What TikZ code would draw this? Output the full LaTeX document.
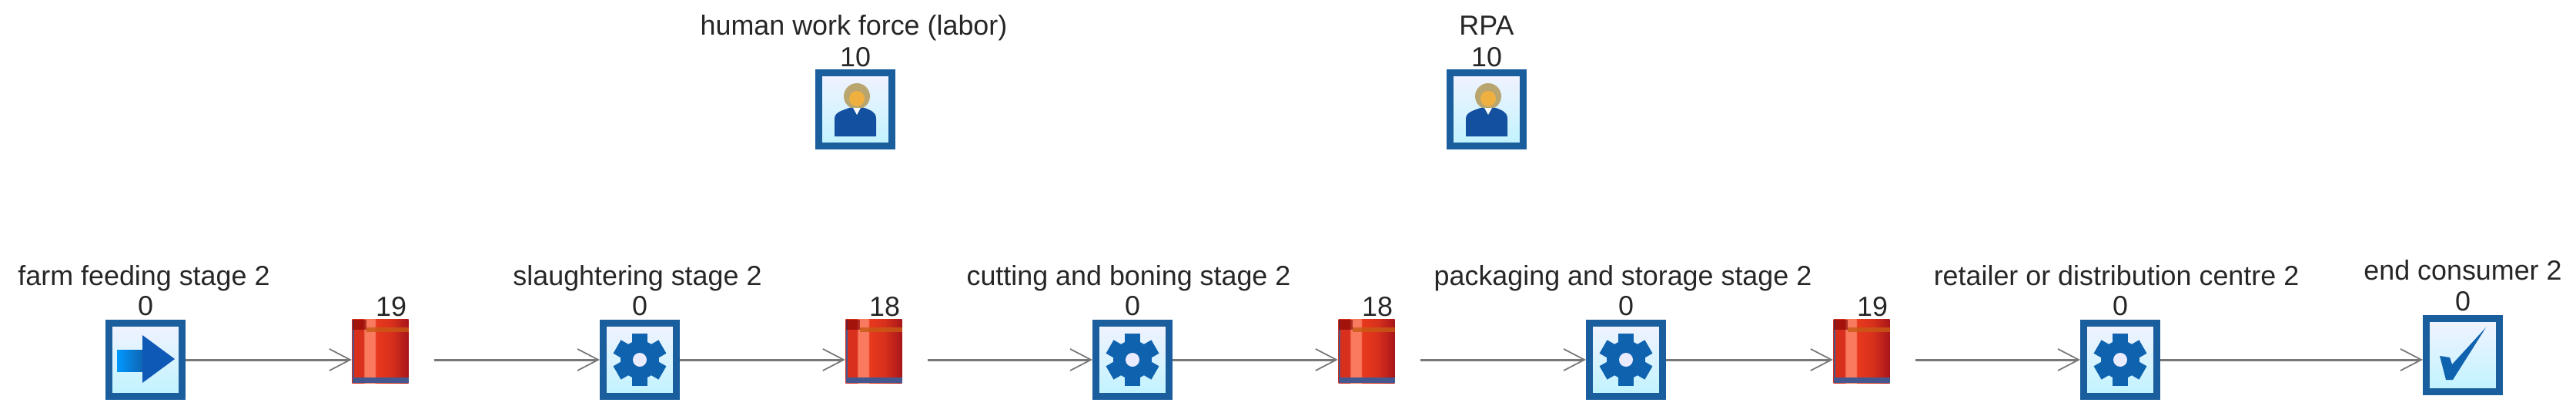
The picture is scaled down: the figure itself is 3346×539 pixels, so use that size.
\documentclass[tikz,border=0pt]{standalone}
\usepackage{fontspec}
\setmainfont{Liberation Sans}
\usepackage{tikz}
\usetikzlibrary{arrows.meta}

\definecolor{boxblue}{HTML}{1A5E9E}
\definecolor{iconblue}{HTML}{0F62AE}
\definecolor{flowgray}{HTML}{777777}
\definecolor{bufferred}{HTML}{D8301C}
\definecolor{bufferlight}{HTML}{F97A5E}
\definecolor{buffermid}{HTML}{E8391E}
\definecolor{bufferdark}{HTML}{A8161A}
\definecolor{bufferfoot}{HTML}{44588F}
\definecolor{bufferband}{HTML}{C85A14}
\definecolor{personblue}{HTML}{1450A0}
\definecolor{personhair}{HTML}{B9A66F}
\definecolor{personface}{HTML}{F0B040}
\pgfdeclarehorizontalshading{buffershade}{100bp}{
    color(0bp)=(bufferred); color(35bp)=(bufferred);
    color(36bp)=(bufferlight); color(45bp)=(bufferlight); color(46bp)=(buffermid);
    color(60bp)=(bufferred); color(75bp)=(bufferdark); color(100bp)=(bufferdark)}

\tikzset{
    stationbox/.style={draw=boxblue, line width=0.09cm, rectangle,
        top color=blue!5!white, bottom color=blue!18!cyan!25!white,
        minimum width=0.95cm, minimum height=0.95cm, inner sep=0pt},
    bufferbox/.style={rectangle, shading=buffershade, minimum width=0.73cm,
        minimum height=0.82cm, inner sep=0pt},
    caption/.style={font=\fontsize{10.2pt}{12pt}\selectfont, text=black!85, inner sep=0pt, anchor=base},
    count/.style={caption},
    flow/.style={draw=flowgray, line width=0.85pt,
        -{Straight Barb[length=0.27cm, width=0.28cm, line width=0.5pt]}},
    gearicon/.pic={
        \fill[iconblue] (0,0) circle (25);
        \fill[iconblue] (-10,-34) rectangle (10,34);
        \fill[iconblue, rotate=60] (-10,-34) rectangle (10,34);
        \fill[iconblue, rotate=120] (-10,-34) rectangle (10,34);
        \fill[blue!8!white] (0,0) circle (9);
    },
    arrowicon/.pic={
        \fill[left color=cyan!60!blue, right color=iconblue] (-37,-13) rectangle (-2,15);
        \fill[iconblue!90!blue] (-4,-32) -- (38,-1) -- (-4,30) -- cycle;
    },
    checkicon/.pic={
        \fill[iconblue] (-30,1) -- (-17,3) -- (-14,12) -- (30,-36) -- (-13,32) -- (-22,32) -- cycle;
    },
    personicon/.pic={
        \fill[personhair] (2,-17) circle (17);
        \fill[personface] (2,-14) circle (10);
        \fill[personblue] (-27,35) -- (-27,12) .. controls (-27,3) and (-15,1) .. (-8,-2)
            -- (12,-2) .. controls (19,1) and (27,3) .. (27,12) -- (27,35) -- cycle;
        \fill[white] (-3,-2) -- (7,-2) -- (2,7) -- cycle;
    },
    bufferdetail/.pic={
        \fill[bufferfoot] (-36.5,34) rectangle (36.5,41);
        \fill[bufferfoot] (-36.5,-41) rectangle (-34,34);
        \fill[bufferband, opacity=0.8] (-18,-31) rectangle (36.5,-25);
        \fill[red!50!black, opacity=0.6] (-36.5,-41) rectangle (-18,-28);
    },
}

\begin{document}
\begin{tikzpicture}[x=0.01cm, y=-0.01cm]
            \useasboundingbox (0,0) rectangle (3346,539);

            % resources
            \node[caption] (labor) at (1109,45) {human work force (labor)};
            \node[count] (laborcount) at (1111,86) {10};
            \node[stationbox] (laborbox) at (1111,142) {};
            \pic at (laborbox) {personicon};

            \node[caption] (rpa) at (1931,45) {RPA};
            \node[count] (rpacount) at (1931,86) {10};
            \node[stationbox] (rpabox) at (1931,142) {};
            \pic at (rpabox) {personicon};

            % stations
            \node[caption] (farm) at (187,370) {farm feeding stage 2};
            \node[count] (farmcount) at (189,409) {0};
            \node[stationbox] (farmbox) at (189,467) {};
            \pic at (farmbox) {arrowicon};

            \node[caption] (slaughter) at (828,370) {slaughtering stage 2};
            \node[count] (slaughtercount) at (831,409) {0};
            \node[stationbox] (slaughterbox) at (831,467) {};
            \pic at (slaughterbox) {gearicon};

            \node[caption] (cutting) at (1466,370) {cutting and boning stage 2};
            \node[count] (cuttingcount) at (1471,409) {0};
            \node[stationbox] (cuttingbox) at (1471,467) {};
            \pic at (cuttingbox) {gearicon};

            \node[caption] (packaging) at (2108,370) {packaging and storage stage 2};
            \node[count] (packagingcount) at (2112,409) {0};
            \node[stationbox] (packagingbox) at (2112,467) {};
            \pic at (packagingbox) {gearicon};

            \node[caption] (retailer) at (2749,370) {retailer or distribution centre 2};
            \node[count] (retailercount) at (2754,409) {0};
            \node[stationbox] (retailerbox) at (2754,467) {};
            \pic at (retailerbox) {gearicon};

            \node[caption] (consumer) at (3199,363) {end consumer 2};
            \node[count] (consumercount) at (3199,403) {0};
            \node[stationbox] (consumerbox) at (3199,461) {};
            \pic at (consumerbox) {checkicon};

            % buffers
            \node[count] (buffer1count) at (508,410) {19};
            \node[bufferbox] (buffer1) at (494,456) {};
            \pic at (buffer1) {bufferdetail};

            \node[count] (buffer2count) at (1149,410) {18};
            \node[bufferbox] (buffer2) at (1135,456) {};
            \pic at (buffer2) {bufferdetail};

            \node[count] (buffer3count) at (1789,410) {18};
            \node[bufferbox] (buffer3) at (1775,456) {};
            \pic at (buffer3) {bufferdetail};

            \node[count] (buffer4count) at (2432,410) {19};
            \node[bufferbox] (buffer4) at (2418,456) {};
            \pic at (buffer4) {bufferdetail};

            % flows
            \draw[flow] (farmbox) -- (farmbox -| buffer1.west);
            \draw[flow, shorten <=0.33cm] (buffer1.east |- slaughterbox) -- (slaughterbox);
            \draw[flow] (slaughterbox) -- (slaughterbox -| buffer2.west);
            \draw[flow, shorten <=0.33cm] (buffer2.east |- cuttingbox) -- (cuttingbox);
            \draw[flow] (cuttingbox) -- (cuttingbox -| buffer3.west);
            \draw[flow, shorten <=0.33cm] (buffer3.east |- packagingbox) -- (packagingbox);
            \draw[flow] (packagingbox) -- (packagingbox -| buffer4.west);
            \draw[flow, shorten <=0.33cm] (buffer4.east |- retailerbox) -- (retailerbox);
            \draw[flow] (retailerbox) -- (retailerbox -| consumerbox.west);
        \end{tikzpicture}
\end{document}
